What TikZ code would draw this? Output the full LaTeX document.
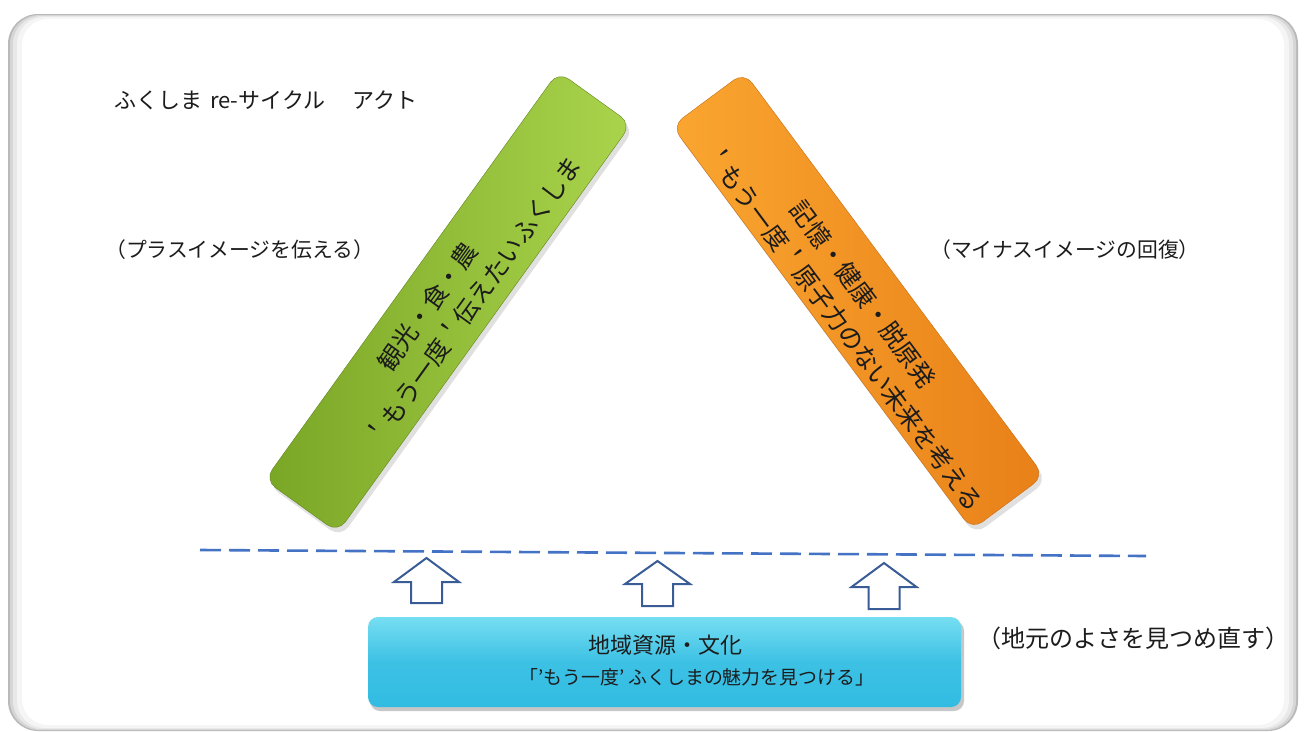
\documentclass[tikz,border=0pt]{standalone}
\usepackage{fontspec}
\setmainfont{Noto Sans CJK JP}
\usetikzlibrary{calc}
\definecolor{dashblue}{RGB}{68,114,196}
\definecolor{arrblue}{RGB}{58,92,150}
\definecolor{grnA}{RGB}{122,166,38}
\definecolor{grnB}{RGB}{154,200,60}
\definecolor{grnC}{RGB}{170,212,76}
\definecolor{orgA}{RGB}{250,166,48}
\definecolor{orgB}{RGB}{247,148,32}
\definecolor{orgC}{RGB}{232,128,24}
\definecolor{cyanA}{RGB}{118,222,242}
\definecolor{cyanB}{RGB}{50,188,226}
\definecolor{txt}{RGB}{28,28,28}
\tikzset{
  barshape/.style={rounded corners=13pt, minimum width=503pt, minimum height=90pt, inner sep=0pt},
  bartext/.style={font=\fontsize{25}{28}\selectfont, text=txt, inner sep=0pt},
  lbl/.style={font=\fontsize{20.8}{24}\selectfont, text=txt, inner sep=0pt, anchor=west},
  uparrow/.style={draw=arrblue, line width=2pt, fill=white, line join=miter},
  dashline/.style={draw=dashblue, line width=2.6pt, dash pattern=on 21pt off 8pt},
}
\newcommand{\blockarrow}[5]{%
  \coordinate (#1) at (#2,#3);
  \draw[uparrow] (#1) -- ({#2+32.5},#4) -- ({#2+15.5},#4) -- ({#2+15.5},#5)
     -- ({#2-15.5},#5) -- ({#2-15.5},#4) -- ({#2-32.5},#4) -- cycle;}
\begin{document}
\begin{tikzpicture}[x=1pt,y=-1pt]
\useasboundingbox (0,0) rectangle (1306,731);
\fill[white] (0,0) rectangle (1306,731);
% frame
\fill[rounded corners=30pt, fill=gray!55] (8,14) rectangle (1298,731);
\fill[rounded corners=29pt, fill=gray!32] (10,15) rectangle (1296,730);
\fill[rounded corners=28pt, fill=gray!18] (13,16) rectangle (1293,729);
\fill[rounded corners=27pt, fill=gray!8] (17,17) rectangle (1289,728);
\fill[rounded corners=26pt, fill=white] (22,19) rectangle (1284,725);

% title and labels
\node[lbl, font=\fontsize{22}{26}\selectfont] (title) at (114,100) {ふくしま\hspace{3pt} re-サイクル　\hspace{5pt}アクト};
\node[lbl] (plus) at (105,250) {（プラスイメージを伝える）};
\node[lbl] (minus) at (930,250) {（マイナスイメージの回復）};
\node[lbl, font=\fontsize{24}{27}\selectfont] (local) at (977,638) {（地元のよさを見つめ直す）};

% shadows of bars
\node[barshape, rotate=54.3, fill=black, opacity=0.12] at (451,307) {};
\node[barshape, rotate=-53.4, fill=black, opacity=0.12] at (861,306) {};

% green bar
\begin{scope}[shift={(448,302)}, rotate=54.3, transform shape]
  \node[barshape, left color=grnA, middle color=grnB, right color=grnC, draw=grnA!80!black, line width=0.4pt] (green) at (0,0) {};
  \node[bartext] (g1) at (-16,-14) {観光・食・農};
  \node[bartext] (g2) at (16,20) {＇もう一度＇伝えたいふくしま};
\end{scope}

% orange bar
\begin{scope}[shift={(858,301)}, rotate=-53.4, transform shape]
  \node[barshape, left color=orgA, middle color=orgB, right color=orgC, draw=orgC!85!black, line width=0.4pt] (orange) at (0,0) {};
  \node[bartext] (o1) at (-2,-8) {記憶・健康・脱原発};
  \node[bartext] (o2) at (13,27) {＇もう一度＇原子力のない未来を考える};
\end{scope}

% dashed line
\coordinate (d1) at (200,550);
\coordinate (d2) at (1146,556);
\draw[dashline] (d1) -- (d2);

% arrows
\blockarrow{a1}{426.5}{558}{582}{603}
\blockarrow{a2}{657.5}{561}{584}{606}
\blockarrow{a3}{884}{563}{587}{609}

% bottom box
\fill[black, opacity=0.22, rounded corners=10pt] (370,621) rectangle (964,711);
\node[rounded corners=10pt, top color=cyanA, bottom color=cyanB, middle color=cyanB!85!cyanA,
      minimum width=593pt, minimum height=90pt, inner sep=0pt] (base) at (664.5,662) {};
\node[font=\fontsize{22}{26}\selectfont, text=txt, inner sep=0pt] (b1) at (665,645) {地域資源・文化};
\node[font=\fontsize{18.9}{22}\selectfont, text=txt, inner sep=0pt] (b2) at (697,677) {「’もう一度’ ふくしまの魅力を見つける」};
\end{tikzpicture}
\end{document}
